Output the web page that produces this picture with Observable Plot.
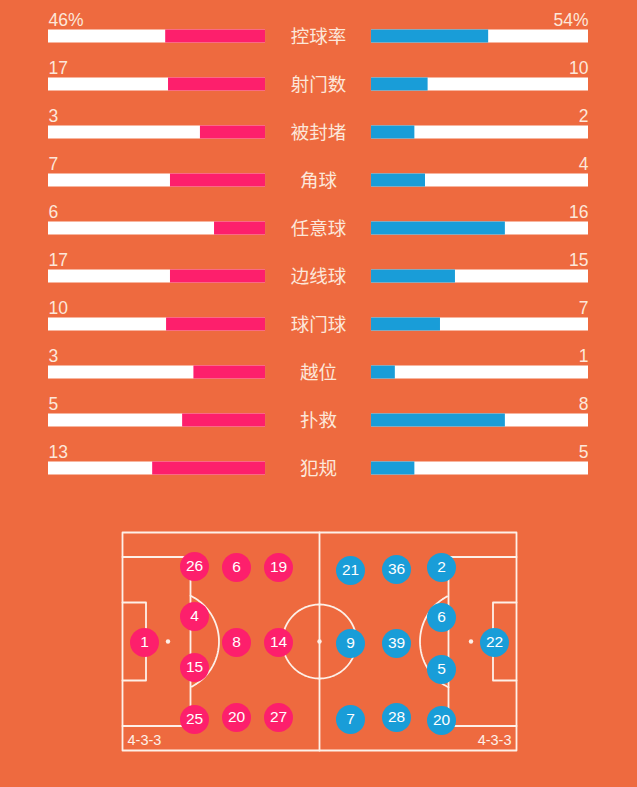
<!DOCTYPE html>
<html>
<head>
<meta charset="utf-8">
<script src="https://cdn.jsdelivr.net/npm/d3@7"></script>
<script src="https://cdn.jsdelivr.net/npm/@observablehq/plot@0.6"></script>
<style>
  html, body { margin: 0; padding: 0; background: #EE6A3F; }
  #chart svg { display: block; }
</style>
</head>
<body>
<div id="chart"></div>
<script>
// ---- Match statistics ----
const statLabels = ["控球率", "射门数", "被封堵", "角球", "任意球", "边线球", "球门球", "越位", "扑救", "犯规"];
const homeValues = ["46%", "17", "3", "7", "6", "17", "10", "3", "5", "13"];
const awayValues = ["54%", "10", "2", "4", "16", "15", "7", "1", "8", "5"];
// share of each bar that is filled
const homeFill = [0.46, 0.447, 0.30, 0.438, 0.235, 0.438, 0.456, 0.33, 0.382, 0.52];
const awayFill = [0.54, 0.261, 0.20, 0.249, 0.617, 0.387, 0.318, 0.11, 0.617, 0.20];

// ---- Line-ups (pitch units) ----
const homeNumbers = [1, 26, 4, 15, 25, 6, 8, 20, 19, 14, 27];
const homeX = [22, 72, 72, 72, 72, 114, 114, 114, 156, 156, 156];
const homeY = [110, 34, 84, 135, 187, 35, 110, 185, 35, 110, 185];
const awayNumbers = [22, 2, 6, 5, 20, 36, 39, 28, 21, 9, 7];
const awayX = [372, 319, 319, 319, 319, 274, 274, 274, 228, 228, 228];
const awayY = [110, 35, 85, 137, 188, 37, 111, 185, 38, 111, 187];
const formations = ["4-3-3", "4-3-3"];

const BG = "#EE6A3F", PINK = "#FD1F6C", BLUE = "#199DD8", CREAM = "#FCE7DA", LINE = "#FDF0E8";
const FONT = "'Liberation Sans', Arial, 'Noto Sans CJK SC', sans-serif";

const stats = statLabels.map((label, i) => ({
  label, home: homeValues[i], away: awayValues[i], hf: homeFill[i], af: awayFill[i]
}));

const G = 0.244; // half gap between the two bars, in bar lengths

const statsPlot = Plot.plot({
  width: 637,
  height: 492,
  margin: 0,
  style: { background: BG, fontFamily: FONT },
  x: { domain: [-1 - G, 1 + G], range: [48, 588], axis: null },
  y: { type: "band", domain: statLabels, range: [11.5, 492], padding: 0, axis: null },
  marks: [
    Plot.barX(stats, { y: "label", x1: () => -1 - G, x2: () => -G, fill: "white", insetTop: 17.5, insetBottom: 17.5 }),
    Plot.barX(stats, { y: "label", x1: d => -G - d.hf, x2: () => -G, fill: PINK, insetTop: 17.5, insetBottom: 17.5 }),
    Plot.barX(stats, { y: "label", x1: () => G, x2: () => 1 + G, fill: "white", insetTop: 17.5, insetBottom: 17.5 }),
    Plot.barX(stats, { y: "label", x1: () => G, x2: d => G + d.af, fill: BLUE, insetTop: 17.5, insetBottom: 17.5 }),
    Plot.text(stats, { y: "label", x: () => -1 - G, text: "home", textAnchor: "start", dy: -16.5, fontSize: 17.5, fill: CREAM }),
    Plot.text(stats, { y: "label", x: () => 1 + G, text: "away", textAnchor: "end", dy: -16.5, fontSize: 17.5, fill: CREAM }),
    Plot.text(stats, { y: "label", x: () => 0, text: "label", dy: 1, fontSize: 18.5, fill: CREAM })
  ]
});

// ---- Pitch geometry (pitch units) ----
const L = 394, W = 218, CX = L / 2, CY = 109;
const boxDepth = 68, boxTop = 24.5, boxBottom = 193.5;
const goalDepth = 23.5, goalTop = 70, goalBottom = 148;
const spotDist = 45.5, centerR = 37, arcR = 51;

const circlePts = (cx, cy, r, a0, a1) => d3.range(a0, a1 + 0.001, 2).map(a => {
  const t = a * Math.PI / 180;
  return [cx + r * Math.cos(t), cy + r * Math.sin(t)];
});
const arcHalf = Math.acos((boxDepth - spotDist) / arcR) * 180 / Math.PI;

const pitchLines = [
  [[0, 0], [L, 0], [L, W], [0, W], [0, 0]],
  [[CX, 0], [CX, W]],
  [[0, boxTop], [boxDepth, boxTop], [boxDepth, boxBottom], [0, boxBottom]],
  [[L, boxTop], [L - boxDepth, boxTop], [L - boxDepth, boxBottom], [L, boxBottom]],
  [[0, goalTop], [goalDepth, goalTop], [goalDepth, goalBottom], [0, goalBottom]],
  [[L, goalTop], [L - goalDepth, goalTop], [L - goalDepth, goalBottom], [L, goalBottom]],
  circlePts(CX, CY, centerR, 0, 360),
  circlePts(spotDist, CY, arcR, -arcHalf, arcHalf),
  circlePts(L - spotDist, CY, arcR, 180 - arcHalf, 180 + arcHalf)
];
const lineSegs = pitchLines.flatMap((pts, k) => pts.map(([x, y]) => ({ k, x, y })));
const spots = [{ x: spotDist, y: CY }, { x: CX, y: CY }, { x: L - spotDist, y: CY }];

const homePlayers = homeNumbers.map((n, i) => ({ n, x: homeX[i], y: homeY[i] }));
const awayPlayers = awayNumbers.map((n, i) => ({ n, x: awayX[i], y: awayY[i] }));

const pitchPlot = Plot.plot({
  width: 637,
  height: 295,
  margin: 0,
  style: { background: BG, fontFamily: FONT },
  x: { domain: [0, L], range: [122, 516], axis: null },
  y: { domain: [0, W], range: [40, 258], axis: null },
  marks: [
    Plot.line(lineSegs, { x: "x", y: "y", z: "k", stroke: LINE, strokeWidth: 1.8, curve: "linear" }),
    Plot.dot(spots, { x: "x", y: "y", r: 2.2, fill: LINE }),
    Plot.dot(homePlayers, { x: "x", y: "y", r: 14.5, fill: PINK }),
    Plot.text(homePlayers, { x: "x", y: "y", text: d => String(d.n), fill: "white", fontSize: 15.5 }),
    Plot.dot(awayPlayers, { x: "x", y: "y", r: 14.5, fill: BLUE }),
    Plot.text(awayPlayers, { x: "x", y: "y", text: d => String(d.n), fill: "white", fontSize: 15.5 }),
    Plot.text([formations[0]], { x: () => 5, y: () => 208, text: d => d, textAnchor: "start", fill: LINE, fontSize: 14.5 }),
    Plot.text([formations[1]], { x: () => L - 5, y: () => 208, text: d => d, textAnchor: "end", fill: LINE, fontSize: 14.5 })
  ]
});

const root = document.getElementById("chart");
root.appendChild(statsPlot);
root.appendChild(pitchPlot);
</script>
</body>
</html>
